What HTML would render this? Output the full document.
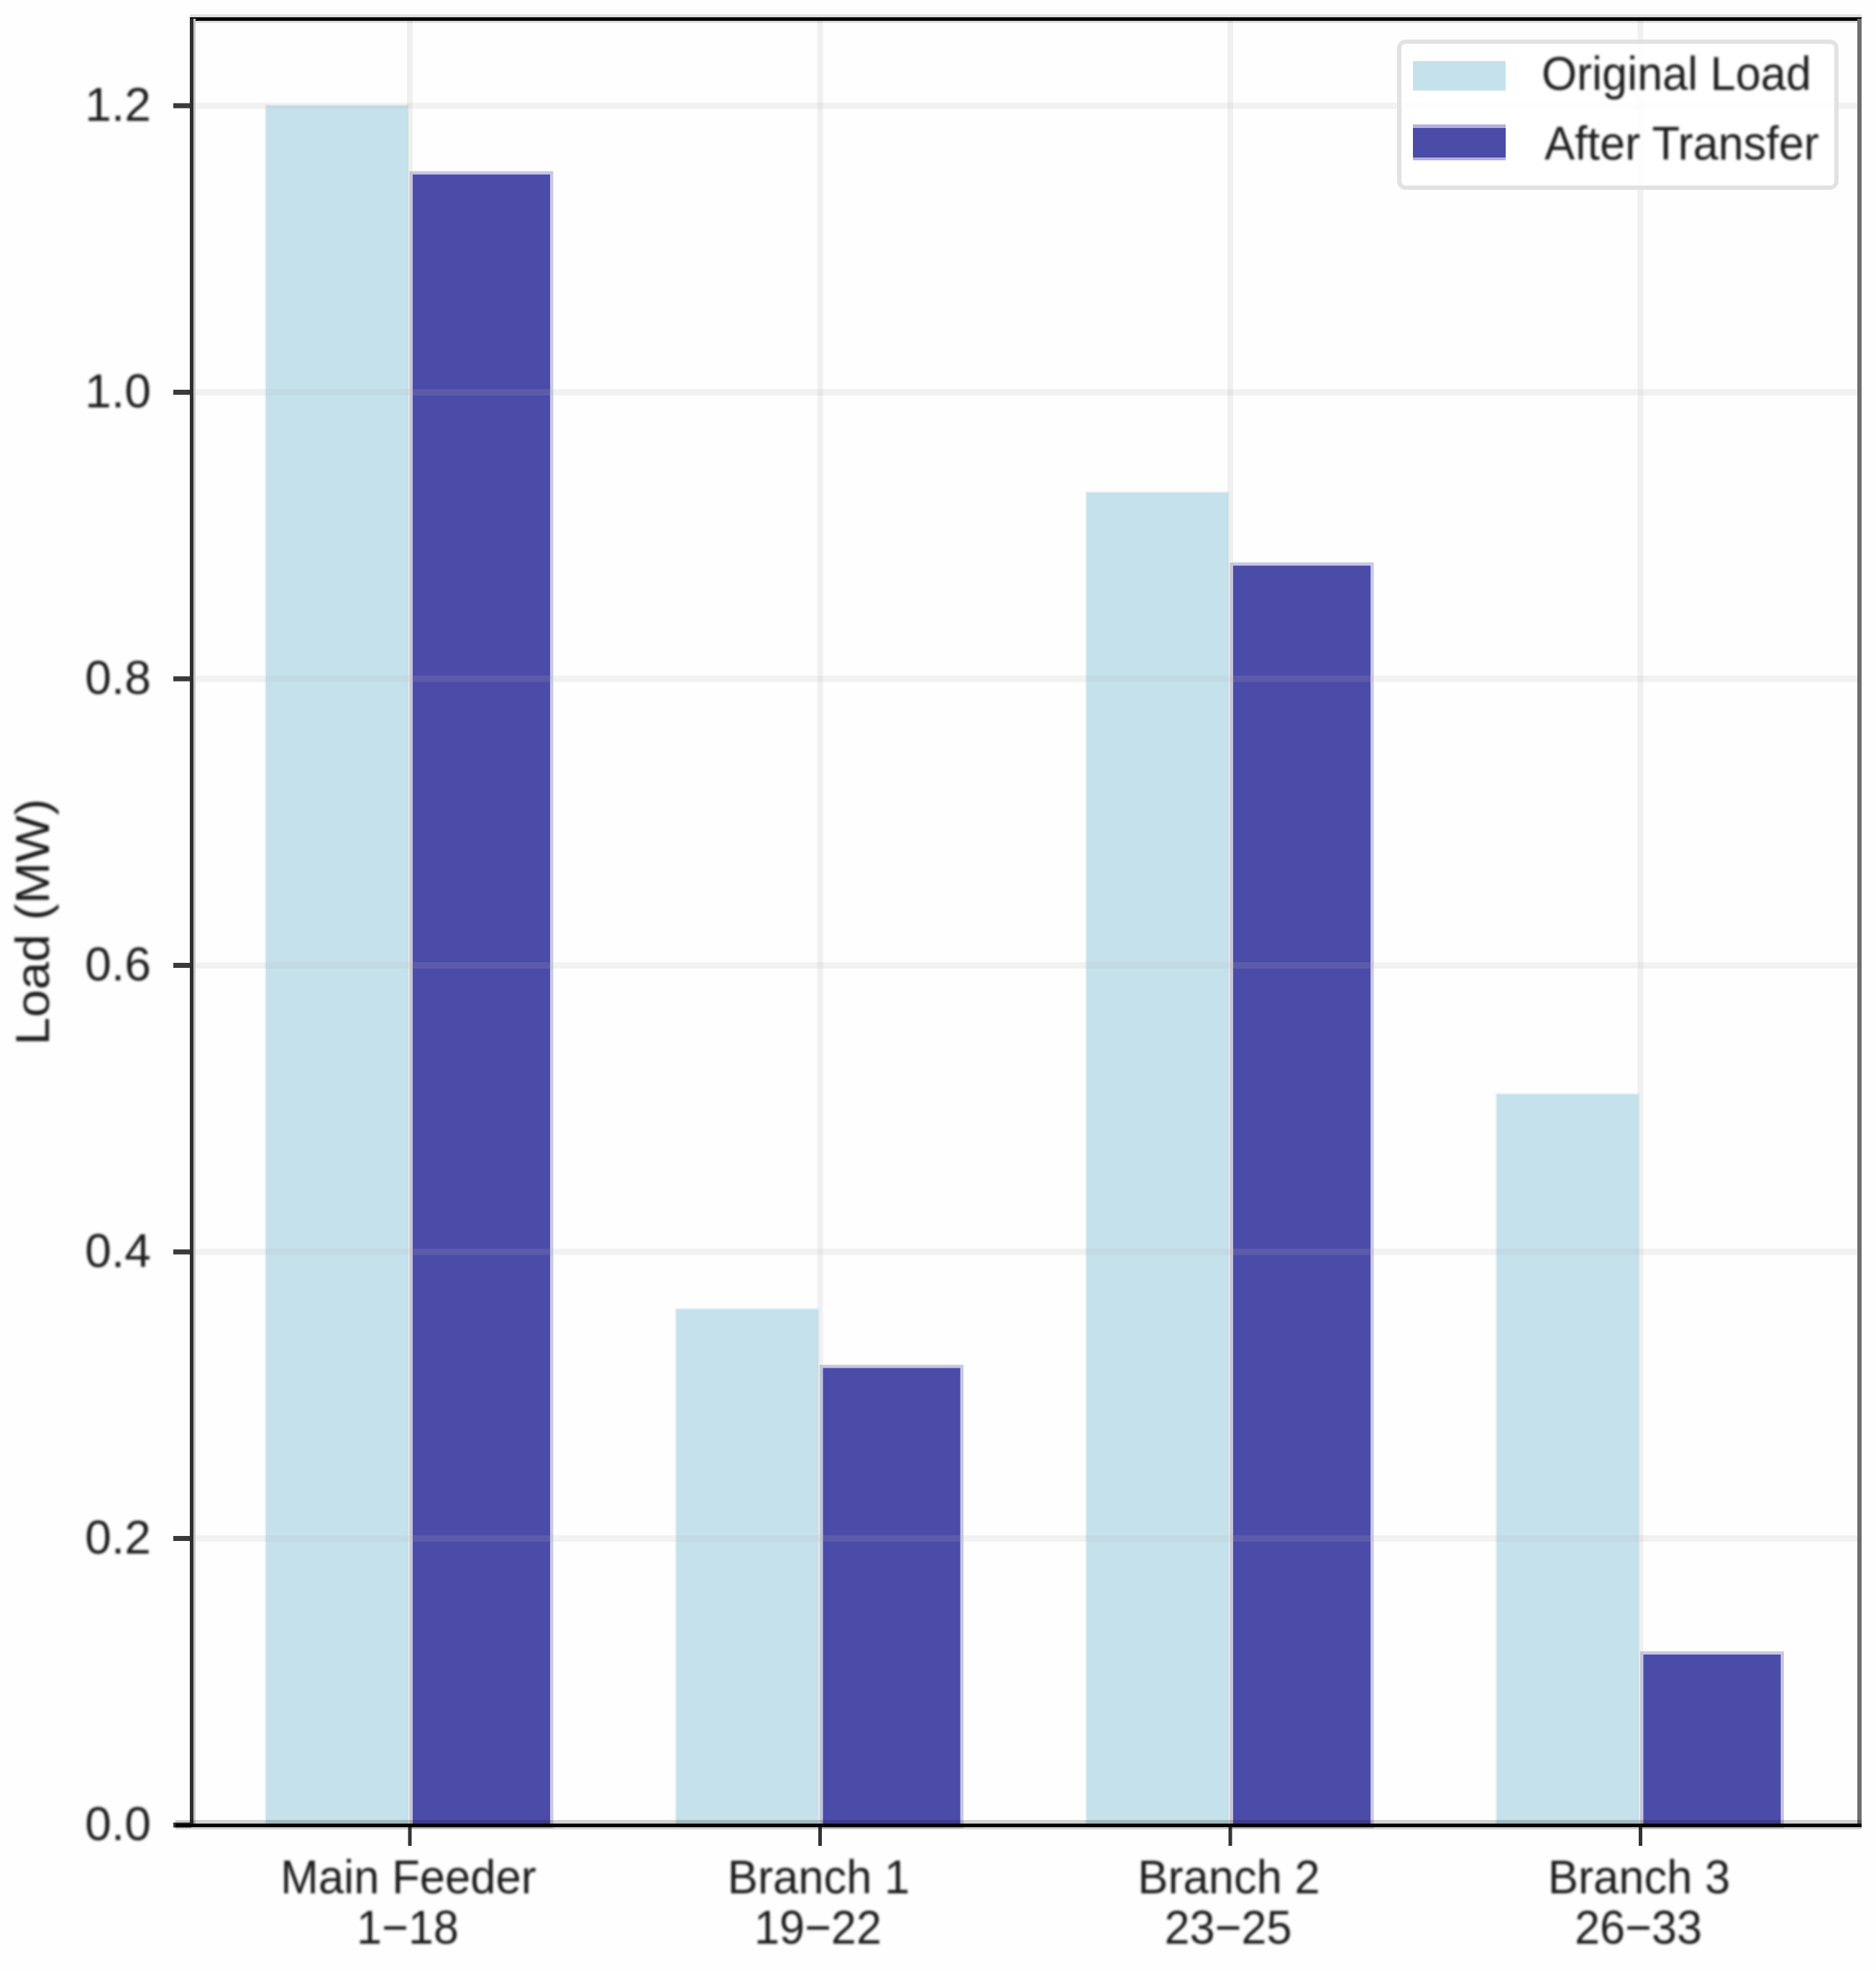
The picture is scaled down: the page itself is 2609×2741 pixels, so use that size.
<!DOCTYPE html>
<html lang="en">
<head>
<meta charset="utf-8">
<title>Load (MW) by feeder section</title>
<style>
  html, body { margin: 0; padding: 0; background: #fefefe; }
  svg { display: block; }
  text { font-family: "Liberation Sans", Arial, sans-serif; font-size: 66px; fill: #1e1e1e; }
</style>
</head>
<body>
<svg id="chart" xmlns="http://www.w3.org/2000/svg" width="2609" height="2741" viewBox="0 0 2609 2741">
  <defs>
    <filter id="soft" x="-5%" y="-20%" width="110%" height="140%"><feGaussianBlur stdDeviation="1.6"/></filter>
  </defs>
  <rect x="0" y="0" width="2609" height="2741" fill="#fefefe"/>
  <g id="bars"></g>
  <g id="grid"></g>
  <g id="ticks"></g>
  <g id="spines">
    <rect x="264" y="20" width="2325" height="12" fill="#000" fill-opacity="0.12"/>
    <rect x="264" y="24" width="2325" height="5" fill="#050505"/>
    <rect x="269" y="26" width="3" height="2512" fill="#c4c4c4"/>
    <rect x="264" y="26" width="5" height="2514" fill="#2e2e2e"/>
    <rect x="2583" y="26" width="6" height="2514" fill="#6e6e6e"/>
    <rect x="244" y="2531" width="2345" height="13" fill="#000" fill-opacity="0.18"/>
    <rect x="244" y="2536" width="2345" height="5" fill="#050505"/>
  </g>
  <g id="legend">
    <rect x="1946" y="58" width="608" height="203" rx="9" ry="9" fill="#ffffff" fill-opacity="0.85" stroke="#e2e2e2" stroke-width="6"/>
    <g>
      <rect x="1965" y="85" width="129" height="41" fill="#c5e2ec"/>
      <text class="fit" data-ratio="0.955" x="2144" y="125">Original Load</text>
    </g>
    <g>
      <rect x="1965" y="173" width="129" height="50" fill="#4b4ba8" fill-opacity="0.42"/>
      <rect x="1965" y="178" width="129" height="41" fill="#4b4ba8"/>
      <text class="fit" data-ratio="0.955" x="2148" y="222">After Transfer</text>
    </g>
  </g>
  <g id="labels" filter="url(#soft)">
    <text class="fit" data-ratio="1.05" text-anchor="middle" transform="translate(68,1282) rotate(-90)">Load (MW)</text>
  </g>
</svg>
<script>
// Chart data
const categories = ["Main Feeder", "Branch 1", "Branch 2", "Branch 3"];
const busRanges = ["1\u221218", "19\u221222", "23\u221225", "26\u221233"];
const originalLoad = [1.2, 0.36, 0.93, 0.51];
const afterTransfer = [1.153, 0.32, 0.88, 0.12];
const yTickValues = [0, 0.2, 0.4, 0.6, 0.8, 1.0, 1.2];
const yTickLabels = ["0.0", "0.2", "0.4", "0.6", "0.8", "1.0", "1.2"];

// Axis functions
const yZero = 2538;
const yPerUnit = 1992.5;
const firstCategoryX = 570;
const categoryStep = 570.5;
function yScale(v) { return yZero - v * yPerUnit; }
function xScale(i) { return firstCategoryX + i * categoryStep; }

const NS = "http://www.w3.org/2000/svg";
const barsLayer = document.getElementById("bars");
const gridLayer = document.getElementById("grid");
const ticksLayer = document.getElementById("ticks");
const labelsLayer = document.getElementById("labels");

function make(tag, parent, attrs, text) {
  const el = document.createElementNS(NS, tag);
  for (const k in attrs) el.setAttribute(k, attrs[k]);
  if (text !== undefined) el.textContent = text;
  parent.appendChild(el);
  return el;
}

categories.forEach(function (name, i) {
  const cx = xScale(i);
  const slug = name.toLowerCase().replace(/\s+/g, "-");

  const lightTop = yScale(originalLoad[i]);
  const light = make("rect", barsLayer, {
    x: cx - 200, y: lightTop, width: 197, height: yZero - lightTop,
    fill: "#c5e2ec", stroke: "#c5e2ec", "stroke-opacity": 0.35, "stroke-width": 4
  });
  
  

  const darkTop = yScale(afterTransfer[i]) + 2;
  const dark = make("rect", barsLayer, {
    x: cx + 4, y: darkTop, width: 191, height: yZero - darkTop,
    fill: "#4b4ba8", stroke: "#4b4ba8", "stroke-opacity": 0.3, "stroke-width": 9
  });
  
  

  const vGrid = make("line", gridLayer, {
    x1: cx, x2: cx, y1: 29, y2: yZero,
    stroke: "#b4b4b4", "stroke-opacity": 0.18, "stroke-width": 8
  });
  
  

  const tick = make("line", ticksLayer, {
    x1: cx, x2: cx, y1: yZero, y2: 2567,
    stroke: "#333333", "stroke-width": 5
  });
  
  

  const lab1 = make("text", labelsLayer, { x: cx - 2, y: 2633, "text-anchor": "middle", class: "fit", "data-ratio": 0.96 }, name);
  
  

  const lab2 = make("text", labelsLayer, { x: cx - 3, y: 2703, "text-anchor": "middle", class: "fit", "data-ratio": 0.955 }, busRanges[i]);
  
  
});

yTickValues.forEach(function (v, i) {
  const y = yScale(v);
  if (v > 0) {
    const hGrid = make("line", gridLayer, {
      x1: 269, x2: 2583, y1: y, y2: y,
      stroke: "#b4b4b4", "stroke-opacity": 0.16, "stroke-width": 9
    });
    
    
  }

  const tick = make("line", ticksLayer, {
    x1: 241, x2: 266, y1: y, y2: y,
    stroke: "#3a3a3a", "stroke-width": 7
  });
  
  

  const label = make("text", labelsLayer, { x: 210, y: y + 21, "text-anchor": "end", class: "fit", "data-ratio": 1.0 }, yTickLabels[i]);
  
  
});

document.querySelectorAll("text.fit").forEach(function (t) {
  const ratio = parseFloat(t.getAttribute("data-ratio"));
  t.setAttribute("textLength", (t.getComputedTextLength() * ratio).toFixed(1));
  t.setAttribute("lengthAdjust", "spacingAndGlyphs");
});
document.getElementById("legend").querySelectorAll("text").forEach(function (t) {
  t.setAttribute("filter", "url(#soft)");
});
</script>
</body>
</html>
